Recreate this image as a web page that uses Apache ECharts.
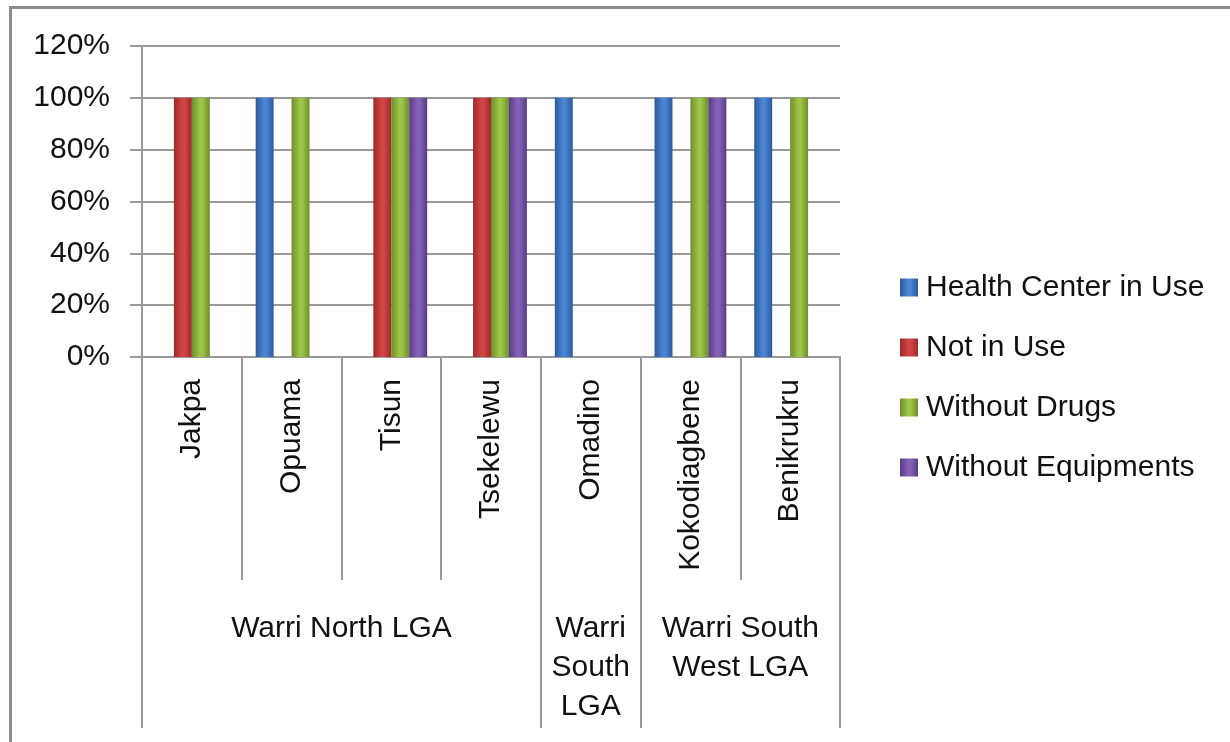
<!DOCTYPE html>
<html>
<head>
<meta charset="utf-8">
<script src="https://cdn.jsdelivr.net/npm/echarts@6/dist/echarts.min.js"></script>
<style>
  html, body { margin: 0; padding: 0; background: #fff; }
  #frame { position: absolute; left: 9px; top: 6px; width: 1400px; height: 900px;
           border-left: 3px solid #8c8c8c; border-top: 3px solid #8c8c8c; }
  #chart { position: absolute; left: 0; top: 0; width: 1230px; height: 742px; }
</style>
</head>
<body>
<div id="frame"></div>
<div id="chart"></div>
<script>
const categories = ['Jakpa', 'Opuama', 'Tisun', 'Tsekelewu', 'Omadino', 'Kokodiagbene', 'Benikrukru'];
const groupNames = ['Warri North LGA', 'Warri\nSouth\nLGA', 'Warri South\nWest LGA'];
const groupSizes = [4, 1, 2];
const seriesNames = ['Health Center in Use', 'Not in Use', 'Without Drugs', 'Without Equipments'];
const healthCenterInUse = [0, 1, 0, 0, 1, 1, 1];
const notInUse          = [1, 0, 1, 1, 0, 0, 0];
const withoutDrugs      = [1, 1, 1, 1, 0, 1, 1];
const withoutEquipments = [0, 0, 1, 1, 0, 1, 0];
const yTicks = [0, 0.2, 0.4, 0.6, 0.8, 1.0, 1.2];

const seriesData = [healthCenterInUse, notInUse, withoutDrugs, withoutEquipments];
const palette = [
  ['#2b5a9c', '#4a84d2'],
  ['#9e2a2a', '#d04444'],
  ['#6e8d2d', '#9cc446'],
  ['#583b86', '#8460b6']
];
function grad(p) {
  return new echarts.graphic.LinearGradient(0, 0, 1, 0, [
    { offset: 0, color: p[0] },
    { offset: 0.45, color: p[1] },
    { offset: 0.6, color: p[1] },
    { offset: 1, color: p[0] }
  ]);
}

// group boundaries / centres on a 0..N value scale
const groupBounds = [0];
const groupCenters = [];
groupSizes.forEach(s => {
  const start = groupBounds[groupBounds.length - 1];
  groupCenters.push(start + s / 2);
  groupBounds.push(start + s);
});

const FONT = 'Liberation Sans';
const chart = echarts.init(document.getElementById('chart'), null, { renderer: 'canvas' });
chart.setOption({
  backgroundColor: 'transparent',
  animation: false,
  textStyle: { fontFamily: FONT },
  grid: { left: 142, right: 390, top: 46, bottom: 385, containLabel: false },
  legend: {
    orient: 'vertical',
    left: 895, top: 265,
    itemWidth: 18, itemHeight: 18,
    itemGap: 25,
    icon: 'rect',
    textStyle: { fontFamily: FONT, fontSize: 30, color: '#111', lineHeight: 35, padding: [0, 0, 0, 3] },
    data: seriesNames
  },
  xAxis: [
    {
      type: 'category',
      data: categories,
      position: 'bottom',
      axisLine: { lineStyle: { color: '#999', width: 2 } },
      axisTick: { show: true, length: 223, lineStyle: { color: '#999', width: 2 }, alignWithLabel: false },
      axisLabel: { rotate: 90, margin: 22, fontSize: 30, color: '#111', fontFamily: FONT, interval: 0 },
      splitLine: { show: false }
    },
    {
      type: 'value',
      min: 0, max: categories.length,
      position: 'bottom',
      axisLine: { show: false },
      axisTick: { show: true, length: 371, customValues: groupBounds, lineStyle: { color: '#999', width: 2 } },
      axisLabel: {
        customValues: groupCenters,
        margin: 252,
        fontSize: 30, lineHeight: 39, color: '#111', fontFamily: FONT,
        verticalAlign: 'top',
        formatter: function (v) {
          const i = groupCenters.indexOf(v);
          return i >= 0 ? groupNames[i] : '';
        }
      },
      splitLine: { show: false }
    }
  ],
  yAxis: {
    type: 'value',
    min: 0, max: 1.2, interval: 0.2,
    axisLine: { show: true, lineStyle: { color: '#999', width: 2 } },
    axisTick: { show: true, length: 12, lineStyle: { color: '#999', width: 2 } },
    axisLabel: {
      margin: 32, fontSize: 30, color: '#111', fontFamily: FONT,
      formatter: v => Math.round(v * 100) + '%'
    },
    splitLine: { show: true, lineStyle: { color: '#999', width: 2 } }
  },
  series: seriesNames.map((name, i) => ({
    name: name,
    type: 'bar',
    xAxisIndex: 0,
    data: seriesData[i],
    barGap: '0%',
    barCategoryGap: '28%',
    itemStyle: { color: grad(palette[i]) }
  }))
});
</script>
</body>
</html>
